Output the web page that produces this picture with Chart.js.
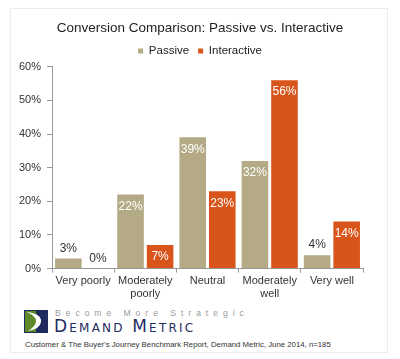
<!DOCTYPE html>
<html>
<head>
<meta charset="utf-8">
<script src="https://cdn.jsdelivr.net/npm/chart.js@4/dist/chart.umd.min.js"></script>
<style>
  body { margin: 0; background: #fff; font-family: "Liberation Sans", Arial, sans-serif; }
  .wrap { position: relative; width: 400px; height: 359px; overflow: hidden; }
  .frame { position: absolute; left: 10px; top: 8px; width: 376px; height: 343px; border: 1px solid #ececec; }
  #chartBox { position: absolute; left: 0; top: 0; width: 400px; height: 303px; }
  .logo { position: absolute; left: 24px; top: 310px; width: 24px; height: 23px; }
  .tagline { position: absolute; left: 55px; top: 308px; font-size: 8.5px; letter-spacing: 5px; color: #9a9a9a; white-space: nowrap; }
  .brand { position: absolute; left: 54px; top: 318px; font-family: "DejaVu Sans", sans-serif; font-size: 17px; letter-spacing: 2.2px; color: #1f2b5e; font-variant: small-caps; white-space: nowrap; line-height: 17px; }
  .source { position: absolute; left: 25px; top: 340px; font-size: 7.8px; color: #333; white-space: nowrap; }
</style>
</head>
<body>
<div class="wrap">
  <div class="frame"></div>
  <div id="chartBox"><canvas id="myChart"></canvas></div>
  <svg class="logo" viewBox="0 0 24 23">
    <rect x="0" y="0" width="24" height="23" fill="#1f2b5e"/>
    <rect x="1" y="1" width="11" height="21" fill="#5f8a2c"/>
    <path d="M3 2 Q18 4 17 12 Q16 19 4 21 Q12 16 12 11 Q12 6 3 2 Z" fill="#fff"/>
  </svg>
  <div class="tagline">Become More Strategic</div>
  <div class="brand">Demand Metric</div>
  <div class="source">Customer &amp; The Buyer's Journey Benchmark Report, Demand Metric, June 2014, n=185</div>
</div>
<script>
  // DATA
  var categories = [["Very poorly"], ["Moderately", "poorly"], ["Neutral"], ["Moderately", "well"], ["Very well"]];
  var passiveValues = [3, 22, 39, 32, 4];
  var interactiveValues = [0, 7, 23, 56, 14];
  var yTicks = [0, 10, 20, 30, 40, 50, 60];

  var passiveColor = "#b4aa85";
  var interactiveColor = "#d9541b";

  // value labels drawn on/above the bars
  var valueLabels = {
    id: "valueLabels",
    afterDatasetsDraw: function(chart) {
      var ctx = chart.ctx;
      ctx.save();
      ctx.font = "12px 'Liberation Sans', Arial, sans-serif";
      ctx.textAlign = "center";
      ctx.textBaseline = "middle";
      chart.data.datasets.forEach(function(ds, i) {
        chart.getDatasetMeta(i).data.forEach(function(bar, j) {
          var v = ds.data[j];
          if (v >= 5) {
            ctx.fillStyle = "#ffffff";
            ctx.fillText(v + "%", bar.x, bar.y + 12);
          } else {
            ctx.fillStyle = "#333333";
            ctx.fillText(v + "%", bar.x, bar.y - 10);
          }
        });
      });
      ctx.restore();
    }
  };

  new Chart("myChart", {
    type: "bar",
    data: {
      labels: categories,
      datasets: [
        { label: "Passive", data: passiveValues, backgroundColor: passiveColor, barPercentage: 0.9, categoryPercentage: 0.95 },
        { label: "Interactive", data: interactiveValues, backgroundColor: interactiveColor, barPercentage: 0.9, categoryPercentage: 0.95 }
      ]
    },
    options: {
      responsive: true,
      maintainAspectRatio: false,
      animation: false,
      layout: { padding: { left: 13, right: 13, top: 12, bottom: 0 } },
      plugins: {
        title: {
          display: true,
          text: "Conversion Comparison: Passive vs. Interactive",
          color: "#222",
          font: { size: 13.5, family: "'Liberation Sans', Arial, sans-serif", weight: "normal" },
          padding: { top: 8, bottom: 0 }
        },
        legend: {
          display: true,
          labels: {
            boxWidth: 5, boxHeight: 5, color: "#222",
            font: { size: 11.5, family: "'Liberation Sans', Arial, sans-serif" },
            padding: 9
          }
        },
        tooltip: { enabled: false }
      },
      scales: {
        x: {
          grid: { drawOnChartArea: false, tickLength: 4, color: "#999" },
          border: { color: "#999" },
          ticks: { color: "#333", font: { size: 11, family: "'Liberation Sans', Arial, sans-serif" }, padding: 2, maxRotation: 0 }
        },
        y: {
          min: 0, max: 60,
          afterBuildTicks: function(axis) { axis.ticks = yTicks.map(function(v) { return { value: v }; }); },
          grid: { drawOnChartArea: false, tickLength: 5, color: "#999" },
          border: { color: "#999" },
          ticks: {
            color: "#333", font: { size: 11, family: "'Liberation Sans', Arial, sans-serif" }, padding: 6,
            callback: function(v) { return v + "%"; }
          }
        },
        // empty right-hand spacer so the plot ends where the original does
        spacer: {
          position: "right", display: true,
          grid: { display: false }, border: { display: false }, ticks: { display: false },
          afterFit: function(axis) { axis.width = 24; }
        }
      }
    },
    plugins: [valueLabels]
  });
</script>
</body>
</html>
